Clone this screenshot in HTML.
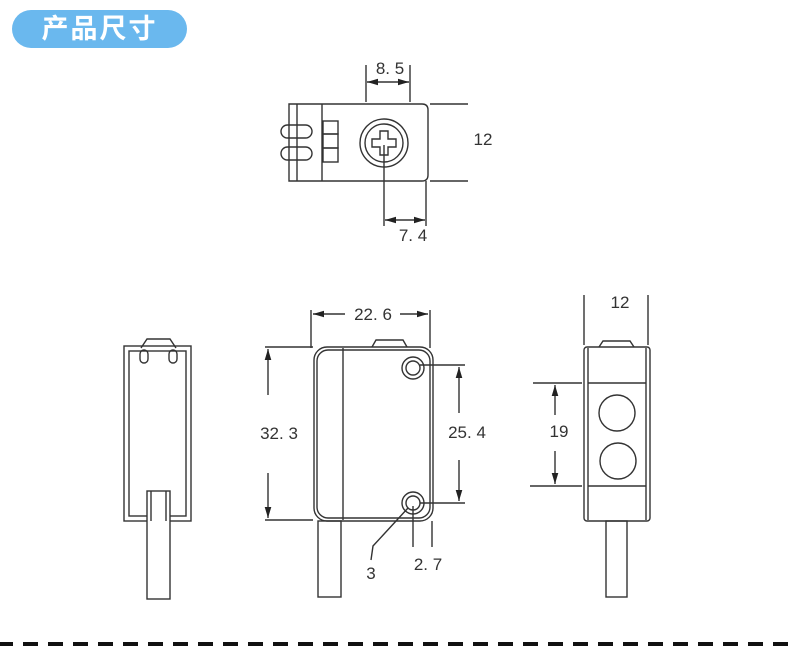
<!DOCTYPE html>
<html><head><meta charset="utf-8"><style>
html,body{margin:0;padding:0;background:#fff;}
.pill{position:absolute;left:12px;top:10px;width:175px;height:38px;border-radius:19px;background:#6ab8ee;color:#fff;font:bold 27px "Liberation Sans","Noto Sans CJK SC",sans-serif;text-align:center;line-height:38px;letter-spacing:2px;}
svg{position:absolute;left:0;top:0;}
text{font-family:"Liberation Sans",sans-serif;font-size:17px;fill:#333;}
</style></head><body>
<svg width="790" height="661" viewBox="0 0 790 661">
<defs><marker id="a" viewBox="0 0 10 10" refX="10" refY="5" markerWidth="8" markerHeight="8" orient="auto-start-reverse"><path d="M0,2 L10,5 L0,8 z" fill="#222"/></marker></defs>
<g fill="none" stroke="#333" stroke-width="1.4">
<path d="M289,104 H422 Q428,104 428,110 V175 Q428,181 422,181 H289 Z"/>
<line x1="297" y1="104" x2="297" y2="181"/><line x1="322" y1="104" x2="322" y2="181"/>
<rect x="323" y="121" width="15" height="13"/><rect x="323" y="134" width="15" height="14"/><rect x="323" y="148" width="15" height="14"/>
<rect x="281" y="125" width="31" height="13" rx="6.5"/><rect x="281" y="147" width="31" height="13" rx="6.5"/>
<circle cx="384" cy="143" r="24"/><circle cx="384" cy="143" r="19"/>
<path d="M380,131 H388 V139 H396 V147 H388 V155 H380 V147 H372 V139 H380 Z"/>
<line x1="366" y1="65" x2="366" y2="102"/><line x1="410" y1="65" x2="410" y2="102"/>
<line x1="367" y1="82" x2="409" y2="82" marker-start="url(#a)" marker-end="url(#a)"/>
<line x1="430" y1="104" x2="468" y2="104"/><line x1="430" y1="181" x2="468" y2="181"/>
<line x1="384" y1="145" x2="384" y2="226"/><line x1="426" y1="181" x2="426" y2="226"/>
<line x1="385" y1="220" x2="425" y2="220" marker-start="url(#a)" marker-end="url(#a)"/>
<rect x="124" y="346" width="67" height="175"/><rect x="129" y="351" width="57" height="165"/>
<path d="M141,348 L147,339 H170 L176,348"/>
<rect x="140" y="350" width="8" height="13" rx="4"/><rect x="169" y="350" width="8" height="13" rx="4"/>
<rect x="147" y="491" width="23" height="108" fill="#fff"/><line x1="151" y1="491" x2="151" y2="521"/><line x1="166" y1="491" x2="166" y2="521"/>
<rect x="314" y="347" width="119" height="174" rx="13"/><rect x="317" y="350" width="113" height="168" rx="11"/>
<line x1="343" y1="348" x2="343" y2="520"/>
<path d="M372,347 L376,340 H403 L407,347"/>
<circle cx="413" cy="368" r="11"/><circle cx="413" cy="368" r="7"/>
<circle cx="413" cy="503" r="11"/><circle cx="413" cy="503" r="7"/>
<rect x="318" y="521" width="23" height="76"/>
<line x1="311" y1="310" x2="311" y2="348"/><line x1="430" y1="310" x2="430" y2="348"/>
<line x1="313" y1="314" x2="345" y2="314" marker-start="url(#a)"/><line x1="400" y1="314" x2="428" y2="314" marker-end="url(#a)"/>
<line x1="265" y1="347" x2="313" y2="347"/><line x1="265" y1="520" x2="313" y2="520"/>
<line x1="268" y1="395" x2="268" y2="349" marker-end="url(#a)"/><line x1="268" y1="473" x2="268" y2="518" marker-end="url(#a)"/>
<line x1="420" y1="365" x2="465" y2="365"/><line x1="420" y1="503" x2="465" y2="503"/>
<line x1="459" y1="413" x2="459" y2="367" marker-end="url(#a)"/><line x1="459" y1="460" x2="459" y2="501" marker-end="url(#a)"/>
<path d="M408,508 L373,546 L371,560"/>
<line x1="413" y1="506" x2="413" y2="547"/><line x1="432" y1="521" x2="432" y2="547"/>
<rect x="584" y="347" width="66" height="174" rx="3"/>
<line x1="588" y1="348" x2="588" y2="520"/><line x1="646" y1="348" x2="646" y2="520"/>
<line x1="588" y1="383" x2="646" y2="383"/><line x1="588" y1="486" x2="646" y2="486"/>
<path d="M599,347 L603,341 H630 L634,347"/>
<circle cx="617" cy="413" r="18"/><circle cx="618" cy="461" r="18"/>
<rect x="606" y="521" width="21" height="76"/>
<line x1="584" y1="295" x2="584" y2="345"/><line x1="648" y1="295" x2="648" y2="345"/>
<line x1="533" y1="383" x2="582" y2="383"/><line x1="530" y1="486" x2="582" y2="486"/>
<line x1="555" y1="415" x2="555" y2="385" marker-end="url(#a)"/><line x1="555" y1="451" x2="555" y2="484" marker-end="url(#a)"/>
</g>
<line x1="0" y1="644" x2="790" y2="644" stroke="#111" stroke-width="4" stroke-dasharray="15 10" stroke-dashoffset="2"/>
<text x="390" y="74" text-anchor="middle">8. 5</text>
<text x="483" y="145" text-anchor="middle">12</text>
<text x="413" y="241" text-anchor="middle">7. 4</text>
<text x="373" y="320" text-anchor="middle">22. 6</text>
<text x="279" y="439" text-anchor="middle">32. 3</text>
<text x="467" y="438" text-anchor="middle">25. 4</text>
<text x="371" y="579" text-anchor="middle">3</text>
<text x="428" y="570" text-anchor="middle">2. 7</text>
<text x="620" y="308" text-anchor="middle">12</text>
<text x="559" y="437" text-anchor="middle">19</text>
</svg>
<div class="pill">产品尺寸</div>
</body></html>
